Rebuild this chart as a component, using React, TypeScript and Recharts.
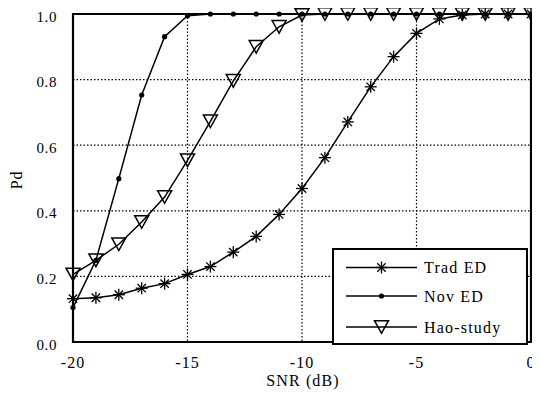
import React from 'react';
import { LineChart, Line, XAxis, YAxis, CartesianGrid, ReferenceArea } from 'recharts';

const snr = [-20, -19, -18, -17, -16, -15, -14, -13, -12, -11, -10, -9, -8, -7, -6, -5, -4, -3, -2, -1, 0];
const tradED = [0.132, 0.135, 0.144, 0.164, 0.178, 0.206, 0.23, 0.274, 0.322, 0.389, 0.468, 0.562, 0.671, 0.778, 0.87, 0.941, 0.985, 0.997, 1, 1, 1];
const novED = [0.105, 0.249, 0.498, 0.753, 0.931, 0.995, 1, 1, 1, 1, 1, 1, 1, 1, 1, 1, 1, 1, 1, 1, 1];
const haoStudy = [0.206, 0.249, 0.298, 0.366, 0.442, 0.554, 0.673, 0.796, 0.9, 0.961, 0.997, 1, 1, 1, 1, 1, 1, 1, 1, 1, 1];
const xTicks = [-20, -15, -10, -5, 0];
const yTicks = [0, 0.2, 0.4, 0.6, 0.8, 1.0];
const seriesNames = ['Trad ED', 'Nov ED', 'Hao-study'];

const data = snr.map((s, i) => ({ snr: s, trad: tradED[i], nov: novED[i], hao: haoStudy[i] }));

const FONT = "'Liberation Serif', 'Times New Roman', Times, serif";

const Star = ({ cx, cy }: { cx: number; cy: number }) => (
  <g stroke="#000" strokeWidth={1.3}>
    <line x1={cx - 6} y1={cy} x2={cx + 6} y2={cy} />
    <line x1={cx} y1={cy - 6} x2={cx} y2={cy + 6} />
    <line x1={cx - 4.2} y1={cy - 4.2} x2={cx + 4.2} y2={cy + 4.2} />
    <line x1={cx - 4.2} y1={cy + 4.2} x2={cx + 4.2} y2={cy - 4.2} />
  </g>
);
const Dot = ({ cx, cy }: { cx: number; cy: number }) => <circle cx={cx} cy={cy} r={2.6} fill="#000" stroke="none" />;
const Tri = ({ cx, cy }: { cx: number; cy: number }) => (
  <path d={`M${cx - 7},${cy - 6.3} L${cx + 7},${cy - 6.3} L${cx},${cy + 6.3} Z`} fill="none" stroke="#000" strokeWidth={1.5} />
);

const starDot = (p: any) => <Star key={`t-${p.index}`} cx={p.cx} cy={p.cy} />;
const roundDot = (p: any) => <Dot key={`n-${p.index}`} cx={p.cx} cy={p.cy} />;
const triDot = (p: any) => <Tri key={`h-${p.index}`} cx={p.cx} cy={p.cy} />;

const XTick = (p: any) => (
  <text x={p.x} y={367.5} textAnchor="middle" fill="#000" style={{ fontFamily: FONT, fontSize: 16, letterSpacing: 1 }}>
    {p.payload.value}
  </text>
);
const YTick = (p: any) => (
  <text x={p.x} y={p.y} dy={7.5} textAnchor="end" fill="#000" style={{ fontFamily: FONT, fontSize: 15, letterSpacing: 0.6 }}>
    {Number(p.payload.value).toFixed(1)}
  </text>
);

const renderXLabel = (props: any) => {
  const vb = props.viewBox || {};
  const x = (vb.x ?? 73) + (vb.width ?? 458) / 2;
  return (
    <text x={x + 1} y={380.7} dy="0.35em" textAnchor="middle" style={{ fontFamily: FONT, fontSize: 16, letterSpacing: 1.1 }} fill="#000">
      SNR (dB)
    </text>
  );
};
const renderYLabel = () => (
  <text x={16} y={180} dy="0.35em" textAnchor="middle" transform="rotate(-90 16 180)" style={{ fontFamily: FONT, fontSize: 16, letterSpacing: 0.8 }} fill="#000">
    Pd
  </text>
);

const LegendBox = () => {
  const rows = [19.5, 48, 79];
  const markers = [Star, Dot, Tri];
  return (
    <svg width={196} height={97} style={{ position: 'absolute', left: 332, top: 247.5, overflow: 'visible' }}>
      <rect x={1} y={1} width={194} height={95} fill="#fff" stroke="#000" strokeWidth={2} />
      {seriesNames.map((name, i) => {
        const M = markers[i];
        return (
          <g key={name}>
            <line x1={14} y1={rows[i]} x2={85} y2={rows[i]} stroke="#000" strokeWidth={1.6} />
            <M cx={49.5} cy={rows[i]} />
            <text x={92} y={rows[i]} dy="0.35em" style={{ fontFamily: FONT, fontSize: 16, letterSpacing: 1.2 }} fill="#000">
              {name}
            </text>
          </g>
        );
      })}
    </svg>
  );
};

export default function App() {
  return (
    <div style={{ position: 'relative', width: 540, height: 400, margin: -8 }}>
      <LineChart width={540} height={400} data={data} margin={{ top: 14, right: 9, bottom: 18, left: 0 }}>
        <CartesianGrid stroke="#000" strokeWidth={1.2} strokeDasharray="1.5 2" horizontalValues={yTicks} verticalValues={xTicks} />
        <XAxis
          dataKey="snr"
          type="number"
          domain={[-20, 0]}
          ticks={xTicks}
          height={40}
          tickSize={0}
          tickMargin={8}
          axisLine={false}
          tickLine={false}
          tick={<XTick />}
          interval={0}
          label={{ value: 'SNR (dB)', content: renderXLabel }}
        />
        <YAxis
          type="number"
          domain={[0, 1]}
          ticks={yTicks}
          width={73}
          tickSize={0}
          tickMargin={16}
          axisLine={false}
          tickLine={false}
          tick={<YTick />}
          interval={0}
          label={{ value: 'Pd', content: renderYLabel }}
        />
        <ReferenceArea x1={-20} x2={0} y1={0} y2={1} fill="none" stroke="#000" strokeWidth={2.2} ifOverflow="visible" />
        <Line dataKey="trad" stroke="#000" strokeWidth={1.5} dot={starDot} isAnimationActive={false} />
        <Line dataKey="nov" stroke="#000" strokeWidth={1.5} dot={roundDot} isAnimationActive={false} />
        <Line dataKey="hao" stroke="#000" strokeWidth={1.5} dot={triDot} isAnimationActive={false} />
      </LineChart>
      <LegendBox />
    </div>
  );
}
